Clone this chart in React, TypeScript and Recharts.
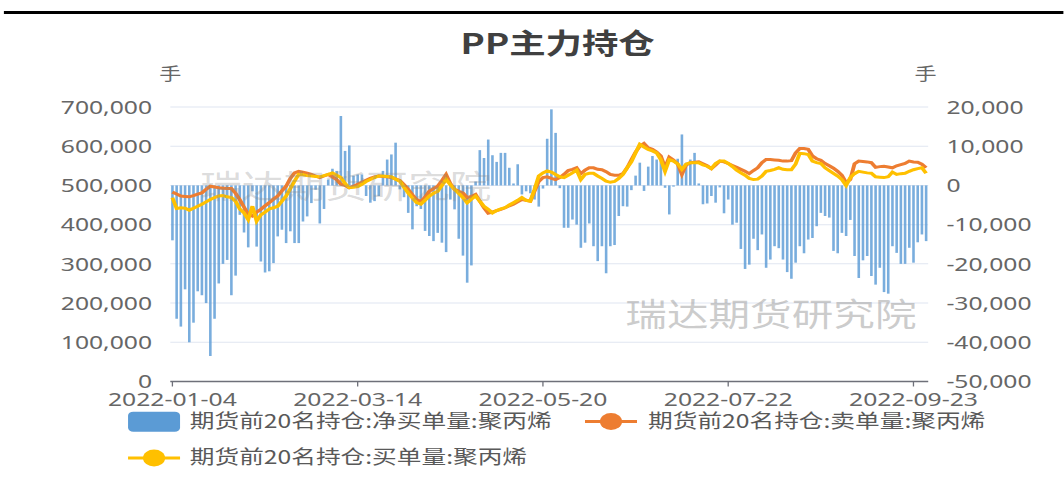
import React from 'react';
import { ComposedChart, Bar, Line, XAxis, YAxis, CartesianGrid } from 'recharts';

const dates = [
  '2022-01-04','2022-01-05','2022-01-06','2022-01-07','2022-01-10','2022-01-11','2022-01-12','2022-01-13','2022-01-14','2022-01-17',
  '2022-01-18','2022-01-19','2022-01-20','2022-01-21','2022-01-24','2022-01-25','2022-01-26','2022-01-27','2022-01-28',
  '2022-02-07','2022-02-08','2022-02-09','2022-02-10','2022-02-11','2022-02-14','2022-02-15','2022-02-16','2022-02-17','2022-02-18',
  '2022-02-21','2022-02-22','2022-02-23','2022-02-24','2022-02-25','2022-02-28',
  '2022-03-01','2022-03-02','2022-03-03','2022-03-04','2022-03-07','2022-03-08','2022-03-09','2022-03-10','2022-03-11','2022-03-14',
  '2022-03-15','2022-03-16','2022-03-17','2022-03-18','2022-03-21','2022-03-22','2022-03-23','2022-03-24','2022-03-25','2022-03-28',
  '2022-03-29','2022-03-30','2022-03-31',
  '2022-04-01','2022-04-06','2022-04-07','2022-04-08','2022-04-11','2022-04-12','2022-04-13','2022-04-14','2022-04-15','2022-04-18',
  '2022-04-19','2022-04-20','2022-04-21','2022-04-22','2022-04-25','2022-04-26','2022-04-27','2022-04-28','2022-04-29',
  '2022-05-05','2022-05-06','2022-05-09','2022-05-10','2022-05-11','2022-05-12','2022-05-13','2022-05-16','2022-05-17','2022-05-18',
  '2022-05-19','2022-05-20','2022-05-23','2022-05-24','2022-05-25','2022-05-26','2022-05-27','2022-05-30','2022-05-31',
  '2022-06-01','2022-06-02','2022-06-06','2022-06-07','2022-06-08','2022-06-09','2022-06-10','2022-06-13','2022-06-14','2022-06-15',
  '2022-06-16','2022-06-17','2022-06-20','2022-06-21','2022-06-22','2022-06-23','2022-06-24','2022-06-27','2022-06-28','2022-06-29',
  '2022-06-30',
  '2022-07-01','2022-07-04','2022-07-05','2022-07-06','2022-07-07','2022-07-08','2022-07-11','2022-07-12','2022-07-13','2022-07-14',
  '2022-07-15','2022-07-18','2022-07-19','2022-07-20','2022-07-21','2022-07-22','2022-07-25','2022-07-26','2022-07-27','2022-07-28',
  '2022-07-29',
  '2022-08-01','2022-08-02','2022-08-03','2022-08-04','2022-08-05','2022-08-08','2022-08-09','2022-08-10','2022-08-11','2022-08-12',
  '2022-08-15','2022-08-16','2022-08-17','2022-08-18','2022-08-19','2022-08-22','2022-08-23','2022-08-24','2022-08-25','2022-08-26',
  '2022-08-29','2022-08-30','2022-08-31',
  '2022-09-01','2022-09-02','2022-09-05','2022-09-06','2022-09-07','2022-09-08','2022-09-09','2022-09-13','2022-09-14','2022-09-15',
  '2022-09-16','2022-09-19','2022-09-20','2022-09-21','2022-09-22','2022-09-23','2022-09-26','2022-09-27','2022-09-28',
];

// 净买单量 (right axis)
const netBuy = [
  -14000,-34000,-36000,-26500,-40000,-35000,-27000,-28000,-30000,-43500,
  -34000,-25000,-20000,-19000,-28000,-23000,-7500,-12000,-15800,-1500,
  -15600,-19400,-22200,-21900,-19800,-13000,-11300,-14700,-11700,-14700,
  -14700,-9200,-7900,-4500,-1100,-9700,-6000,1500,4250,3700,
  17700,8800,10200,2500,2800,2800,-2700,-4400,-4000,-2700,
  3700,6600,7900,10900,-1000,-3000,-7000,-11200,-5300,-6000,
  -11600,-12900,-14200,-12100,-14600,-17000,-3600,-6100,-13600,-17900,
  -24800,-20400,1000,9000,7000,11700,7700,6000,8300,8300,
  4500,500,5400,-2300,-1500,-2000,-3600,-5400,-800,11900,
  19400,13400,-700,-10800,-10800,-8700,-10000,-15900,-14600,-9700,
  -15500,-19300,-15500,-22400,-15500,-15200,-7800,-5300,-5400,-1200,
  2500,5800,-1400,4800,7500,6600,6200,-600,-7400,-300,
  6800,13000,5800,6600,8300,500,-4800,-4600,-2700,-4400,
  -500,-7100,-3600,-10000,-9500,-16200,-21300,-20200,-13600,-16500,
  -12500,-21000,-18900,-15500,-16000,-18900,-22100,-23800,-19700,-15500,
  -17300,-13800,-13400,-10400,-7000,-7800,-8200,-16700,-17300,-12100,
  -12900,-8800,-18000,-23600,-19100,-18000,-23100,-25300,-21000,-27200,
  -27600,-15500,-17200,-20000,-20000,-15900,-19700,-14500,-12500,-14200,
];

// 卖单量 (left axis)
const sellVol = [
  483000,478000,473000,472000,471000,474000,478000,481000,490000,498000,
  496000,494000,493000,492000,492000,480000,464000,445000,426000,422000,
  432000,439000,448000,456000,465000,473000,486000,498000,518000,532000,
  536000,534000,531000,528000,524000,520000,524000,528000,522000,515000,
  503000,500000,494000,498000,503000,508000,513000,518000,522000,524000,
  523000,522000,520000,517000,513000,502000,490000,476000,464000,459000,
  470000,485000,492000,498000,512000,528000,505000,490000,485000,481000,
  469000,472000,477000,460000,443000,429000,432000,436000,439000,443000,
  448000,452000,458000,464000,462000,460000,485000,510000,520000,522000,
  518000,515000,520000,528000,538000,541000,545000,530000,539000,545000,
  545000,541000,540000,535000,528000,526000,526000,530000,545000,565000,
  585000,600000,607000,596000,592000,585000,575000,546000,572000,565000,
  555000,528000,552000,558000,559000,560000,555000,550000,543000,552000,
  562000,560000,556000,551000,546000,541000,536000,530000,538000,545000,
  558000,566000,566000,565000,564000,562000,562000,563000,583000,594000,
  594000,592000,575000,568000,564000,556000,550000,544000,536000,526000,
  507000,515000,555000,562000,561000,560000,558000,546000,548000,549000,
  547000,545000,550000,553000,556000,562000,560000,559000,554000,545000,
];

// 买单量 (left axis)
const buyVol = [
  469000,441000,443000,442000,437000,442000,447000,452000,458000,464000,
  469000,473000,474000,471000,469000,460000,440000,430000,413000,447000,
  409000,425000,432000,440000,443000,447000,460000,473000,492000,511000,
  528000,527000,525000,524000,523000,522000,525000,528000,532000,526000,
  520000,505000,494000,495000,497000,503000,510000,515000,520000,524000,
  524000,523000,522000,516000,511000,495000,481000,468000,456000,452000,
  462000,473000,480000,485000,500000,515000,502000,490000,480000,469000,
  456000,465000,473000,460000,447000,439000,430000,436000,440000,443000,
  450000,456000,462000,469000,462000,460000,490000,524000,532000,537000,
  534000,528000,522000,520000,526000,532000,539000,515000,528000,531000,
  531000,524000,518000,511000,508000,510000,518000,528000,545000,560000,
  583000,605000,598000,592000,588000,583000,566000,536000,566000,562000,
  555000,541000,554000,558000,558000,558000,552000,549000,543000,556000,
  562000,562000,556000,548000,539000,532000,526000,518000,515000,516000,
  524000,536000,538000,541000,545000,541000,540000,540000,554000,582000,
  581000,579000,562000,558000,556000,545000,538000,531000,524000,515000,
  500000,520000,530000,536000,534000,532000,531000,522000,521000,520000,
  522000,534000,528000,530000,531000,536000,540000,543000,545000,531000,
];

const leftTicks = [0, 100000, 200000, 300000, 400000, 500000, 600000, 700000];
const rightTicks = [-50000, -40000, -30000, -20000, -10000, 0, 10000, 20000];

const seriesNames = ['期货前20名持仓:净买单量:聚丙烯', '期货前20名持仓:卖单量:聚丙烯', '期货前20名持仓:买单量:聚丙烯'];
const title = 'PP主力持仓';
const unit = '手';
const watermark = '瑞达期货研究院';

const data = dates.map((d, i) => ({ date: d, net: netBuy[i], sell: sellVol[i], buy: buyVol[i] }));

const SX = 1.3;
const W = 818;
const H = 485;
const fmt = (v: number) => v.toLocaleString('en-US');
const tickStyle = { fill: '#666', fontSize: 19, fontFamily: '"Noto Sans", "Noto Sans CJK SC", sans-serif' };
const cjk = '"Noto Sans CJK SC", "Noto Sans", sans-serif';

export default function App() {
  return (
    <div style={{ position: 'absolute', left: 0, top: 0, width: W, height: H, transform: `scaleX(${SX})`, transformOrigin: '0 0', background: '#fff' }}>
      <div style={{ position: 'absolute', left: 3, top: 11, width: W - 3, height: 3, background: '#000' }} />
      <ComposedChart
        width={W}
        height={H}
        data={data}
        margin={{ top: 107, right: 0, bottom: 73.5, left: 0 }}
        barCategoryGap="20%"
      >
        <CartesianGrid vertical={false} stroke="#e0e6f1" yAxisId="left" />
        <XAxis
          dataKey="date"
          interval={43}
          tick={tickStyle}
          tickSize={5}
          tickMargin={6}
          height={30}
          stroke="#6e7079"
          axisLine={{ stroke: '#6e7079', strokeWidth: 1.5 }}
          tickLine={{ stroke: '#6e7079' }}
        />
        <YAxis
          yAxisId="left"
          orientation="left"
          width={131}
          domain={[0, 700000]}
          ticks={leftTicks}
          tickFormatter={fmt}
          axisLine={false}
          tickLine={false}
          tick={tickStyle}
          tickMargin={8}
        />
        <YAxis
          yAxisId="right"
          orientation="right"
          width={104}
          domain={[-50000, 20000]}
          ticks={rightTicks}
          tickFormatter={fmt}
          axisLine={false}
          tickLine={false}
          tick={tickStyle}
          tickMargin={8}
        />
        <Bar yAxisId="right" dataKey="net" name={seriesNames[0]} fill="#5b9bd5" fillOpacity={0.82} isAnimationActive={false} />
        <Line yAxisId="left" type="linear" dataKey="sell" name={seriesNames[1]} stroke="#ed7d31" strokeWidth={3} dot={false} isAnimationActive={false} />
        <Line yAxisId="left" type="linear" dataKey="buy" name={seriesNames[2]} stroke="#ffc000" strokeWidth={3} dot={false} isAnimationActive={false} />
      </ComposedChart>
      <svg width={W} height={H} style={{ position: 'absolute', left: 0, top: 0, pointerEvents: 'none' }}>
        <text x={429} y={54} textAnchor="middle" fontSize={28} fontWeight="bold" fill="#404040" fontFamily={cjk}>{title}</text>
        <text x={131} y={80} textAnchor="middle" fontSize={17} fill="#666" fontFamily={cjk}>{unit}</text>
        <text x={712} y={80} textAnchor="middle" fontSize={17} fill="#666" fontFamily={cjk}>{unit}</text>
        <text x={154} y={198} fontSize={32} fill="#888" fillOpacity={0.3} fontFamily={cjk}>{watermark}</text>
        <text x={481} y={326} fontSize={32} fill="#999" fillOpacity={0.5} fontFamily={cjk}>{watermark}</text>
        <rect x={98.5} y={411.7} width={40} height={20} rx={4} fill="#5b9bd5" />
        <text x={146} y={428} fontSize={19} fill="#595959" fontFamily={cjk}>{seriesNames[0]}</text>
        <line x1={450} x2={490} y1={421.5} y2={421.5} stroke="#ed7d31" strokeWidth={3} />
        <circle cx={470} cy={421.5} r={8.5} fill="#ed7d31" />
        <text x={498.5} y={428} fontSize={19} fill="#595959" fontFamily={cjk}>{seriesNames[1]}</text>
        <line x1={98.5} x2={138.5} y1={458} y2={458} stroke="#ffc000" strokeWidth={3} />
        <circle cx={118.5} cy={458} r={8.5} fill="#ffc000" />
        <text x={146} y={464.5} fontSize={19} fill="#595959" fontFamily={cjk}>{seriesNames[2]}</text>
      </svg>
    </div>
  );
}
